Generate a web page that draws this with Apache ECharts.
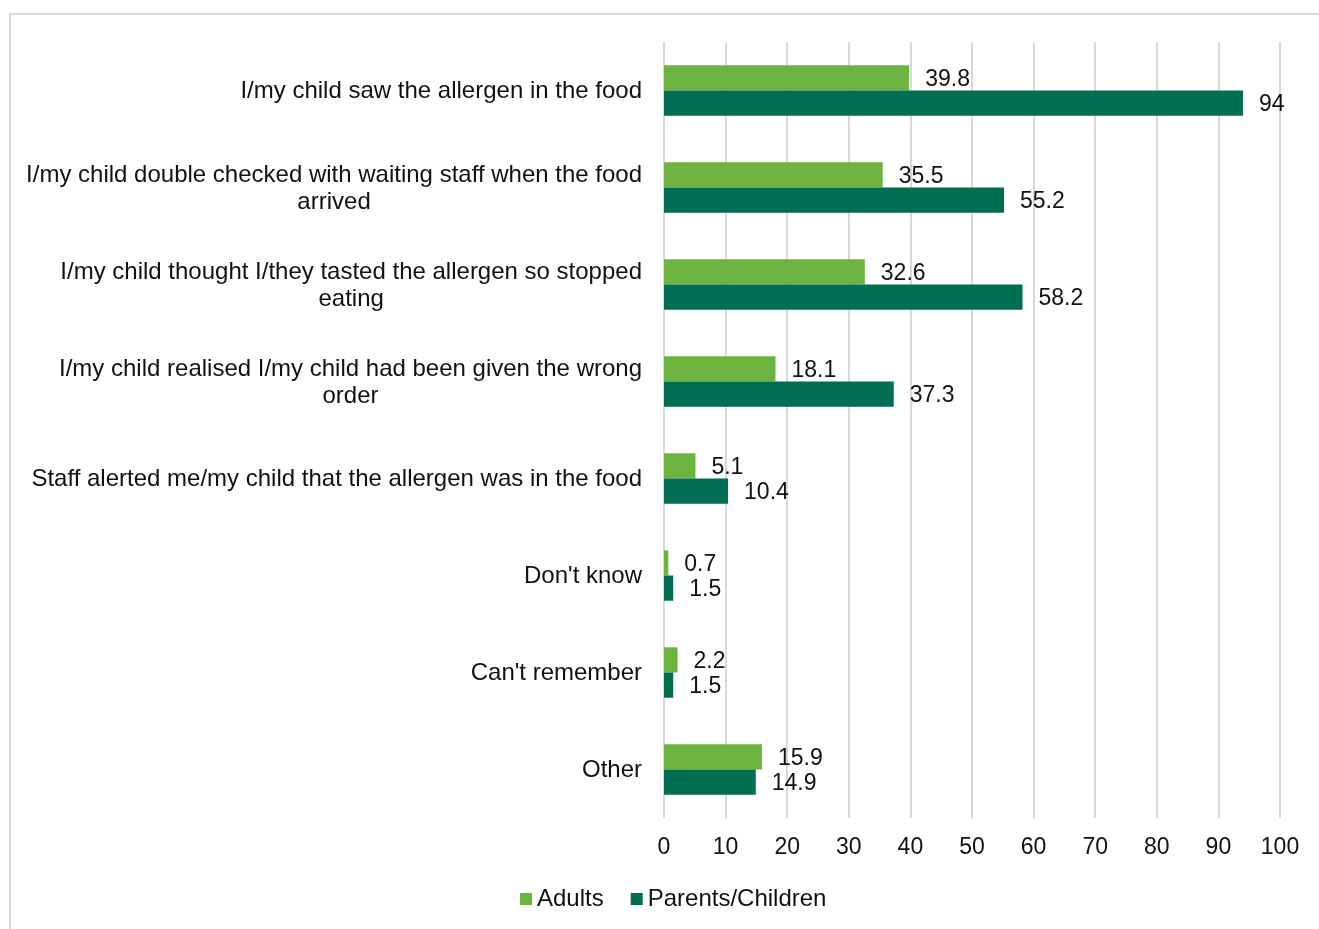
<!DOCTYPE html>
<html>
<head>
<meta charset="utf-8">
<script src="https://cdn.jsdelivr.net/npm/echarts@6/dist/echarts.min.js"></script>
<style>
  html, body { margin: 0; padding: 0; background: #fff; overflow: hidden; }
  #frame { position: absolute; left: 9px; top: 13px; width: 1400px; height: 1000px;
           border: 2px solid #d9d9d9; box-sizing: border-box; }
  #chart { position: absolute; left: 0; top: 0; width: 1319px; height: 929px; }
</style>
</head>
<body>
<div id="frame"></div>
<div id="chart"></div>
<script>
// Reasons respondents noticed the allergen (percent)
const categories = [
  "I/my child saw the allergen in the food",
  "I/my child double checked with waiting staff when the food\narrived",
  "I/my child thought I/they tasted the allergen so stopped\neating",
  "I/my child realised I/my child had been given the wrong\norder",
  "Staff alerted me/my child that the allergen was in the food",
  "Don't know",
  "Can't remember",
  "Other"
];
const adults = [39.8, 35.5, 32.6, 18.1, 5.1, 0.7, 2.2, 15.9];
const parentsChildren = [94, 55.2, 58.2, 37.3, 10.4, 1.5, 1.5, 14.9];
const xTicks = [0, 100, 10];

const FONT = "'Liberation Sans', Arial, sans-serif";
const TEXT = '#111111';

const chart = echarts.init(document.getElementById('chart'), null, { renderer: 'canvas' });

const valueLabel = {
  show: true,
  position: 'right',
  distance: 16,
  offset: [0, 2],
  color: TEXT,
  fontFamily: FONT,
  fontSize: 23
};

chart.setOption({
  animation: false,
  backgroundColor: 'transparent',
  grid: { left: 664, right: 39, top: 42, bottom: 111, containLabel: false },
  legend: {
    data: ['Adults', 'Parents/Children'],
    left: 515,
    top: 882,
    icon: 'rect',
    itemWidth: 12,
    itemHeight: 12,
    itemGap: 27,
    textStyle: { color: TEXT, fontFamily: FONT, fontSize: 24 }
  },
  xAxis: {
    type: 'value',
    min: xTicks[0],
    max: xTicks[1],
    interval: xTicks[2],
    axisLine: { show: false },
    axisTick: { show: false },
    axisLabel: { color: TEXT, fontFamily: FONT, fontSize: 23, margin: 18 },
    splitLine: { show: true, lineStyle: { color: '#d9d9d9', width: 2 } }
  },
  yAxis: {
    type: 'category',
    data: categories,
    inverse: true,
    axisLine: { show: false },
    axisTick: { show: false },
    axisLabel: {
      margin: 22,
      color: TEXT,
      fontFamily: FONT,
      fontSize: 24,
      lineHeight: 27,
      formatter: v => v.split('\n').map(l => '{c|' + l + '}').join('\n'),
      rich: {
        c: { align: 'center', color: TEXT, fontFamily: FONT, fontSize: 24, lineHeight: 27, padding: [2, 0, 0, 0] }
      }
    }
  },
  series: [
    {
      name: 'Adults',
      type: 'bar',
      data: adults,
      barGap: '0%',
      barCategoryGap: '48%',
      itemStyle: { color: '#6db33f' },
      label: valueLabel
    },
    {
      name: 'Parents/Children',
      type: 'bar',
      data: parentsChildren,
      barGap: '0%',
      barCategoryGap: '48%',
      itemStyle: { color: '#006e51' },
      label: valueLabel
    }
  ]
});
</script>
</body>
</html>
